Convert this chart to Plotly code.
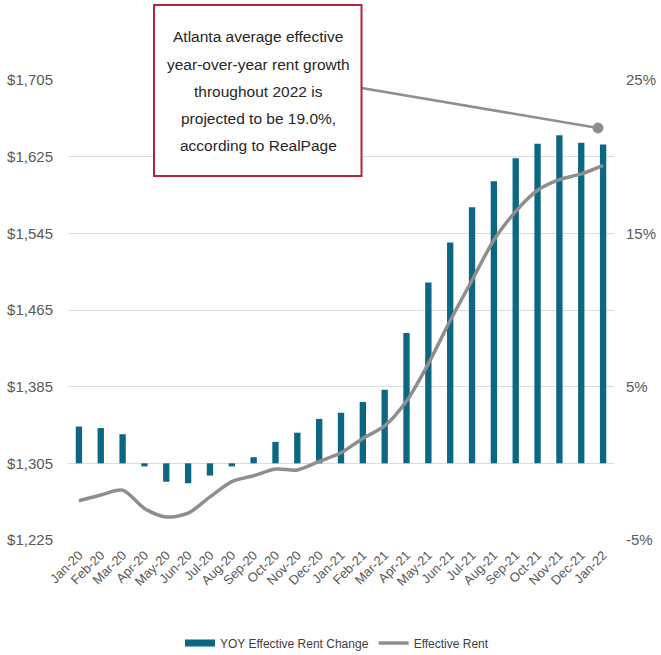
import plotly.graph_objects as go

# Monthly categories
months = [
    "Jan-20", "Feb-20", "Mar-20", "Apr-20", "May-20", "Jun-20", "Jul-20",
    "Aug-20", "Sep-20", "Oct-20", "Nov-20", "Dec-20", "Jan-21", "Feb-21",
    "Mar-21", "Apr-21", "May-21", "Jun-21", "Jul-21", "Aug-21", "Sep-21",
    "Oct-21", "Nov-21", "Dec-21", "Jan-22",
]

# Year-over-year effective rent change (%)
yoy_change = [
    2.4, 2.3, 1.9, -0.2, -1.2, -1.3, -0.8, -0.2, 0.4, 1.4, 2.0, 2.9, 3.3,
    4.0, 4.8, 8.5, 11.8, 14.4, 16.7, 18.4, 19.9, 20.85, 21.4, 20.9, 20.8,
]

# Average effective rent ($)
effective_rent = [
    1266, 1272, 1277, 1258, 1249, 1253, 1270, 1286, 1292, 1299, 1298, 1307,
    1316, 1331, 1344, 1370, 1409, 1454, 1496, 1538, 1568, 1590, 1601, 1607,
    1616,
]

# Axis ticks
rent_ticks = [1225, 1305, 1385, 1465, 1545, 1625, 1705]
pct_ticks = [-5, 0, 5, 10, 15, 20, 25]
pct_labels = ["-5%", "", "5%", "", "15%", "", "25%"]

note_lines = [
    "Atlanta average effective",
    "year-over-year rent growth",
    "throughout 2022 is",
    "projected to be 19.0%,",
    "according to RealPage",
]

FONT = "Liberation Sans, Arial, sans-serif"
TEAL = "#0c6783"
GREY = "#8e8e8e"

W, H = 661, 655
L, R, T, B = 68, 47, 80, 115
PW, PH = W - L - R, H - T - B


def px(x):
    return (x - L) / PW


def py(y):
    return (H - B - y) / PH


fig = go.Figure()

fig.add_trace(go.Bar(
    x=months, y=yoy_change, name="YOY Effective Rent Change",
    marker=dict(color=TEAL, line=dict(width=0)), width=0.29,
    yaxis="y", showlegend=False,
))
# legend swatch drawn as a thick bar
fig.add_trace(go.Scatter(
    x=[None], y=[None], mode="lines", name="YOY Effective Rent Change",
    line=dict(color=TEAL, width=7), yaxis="y",
))
fig.add_trace(go.Scatter(
    x=months, y=effective_rent, name="Effective Rent", mode="lines",
    line=dict(color=GREY, width=3.5, shape="spline", smoothing=0.8),
    yaxis="y2",
))

fig.update_layout(
    width=W, height=H, autosize=False,
    margin=dict(l=L, r=R, t=T, b=B, autoexpand=False),
    paper_bgcolor="white", plot_bgcolor="white",
    font=dict(family=FONT, color="#595959"),
    xaxis=dict(
        type="category", tickangle=-45, tickfont=dict(size=13, color="#595959"),
        showgrid=False, showline=False, ticks="", range=[-0.5, 24.5],
        ticklabelstandoff=4,
    ),
    yaxis=dict(
        side="right", range=[-5, 25], tickvals=pct_ticks, ticktext=pct_labels,
        showgrid=True, gridcolor="#dcdcdc", gridwidth=1, zeroline=False,
        tickfont=dict(size=15, color="#595959"), ticklabelstandoff=11,
    ),
    yaxis2=dict(
        side="left", overlaying="y", range=[1225, 1705], tickvals=rent_ticks,
        tickformat="$,d", showgrid=False, zeroline=False,
        tickfont=dict(size=15, color="#595959"), ticklabelstandoff=14,
    ),
    legend=dict(
        orientation="h", x=px(337), xanchor="center",
        yref="container", y=(H - 643) / H, yanchor="middle",
        font=dict(size=12, color="#404040"), itemwidth=30, traceorder="normal",
    ),
    bargap=0.7,
)

# callout box with connector
fig.add_shape(type="line", xref="paper", yref="paper",
              x0=px(361.5), y0=py(88), x1=px(598), y1=py(128),
              line=dict(color=GREY, width=2.5), layer="above")
fig.add_shape(type="circle", xref="paper", yref="paper",
              x0=px(593), x1=px(603), y0=py(133), y1=py(123),
              fillcolor=GREY, line=dict(color=GREY, width=1), layer="above")
fig.add_shape(type="rect", xref="paper", yref="paper",
              x0=px(154), x1=px(361.5), y0=py(176), y1=py(5),
              fillcolor="white", line=dict(color="#b3263a", width=2), layer="above")
for i, line_text in enumerate(note_lines):
    fig.add_annotation(
        xref="paper", yref="paper", x=px(258), y=py(37 + 27.1 * i),
        text=line_text, showarrow=False, xanchor="center", yanchor="middle",
        font=dict(family=FONT, size=15.5, color="#262626"),
    )

fig.write_html("out.html")
